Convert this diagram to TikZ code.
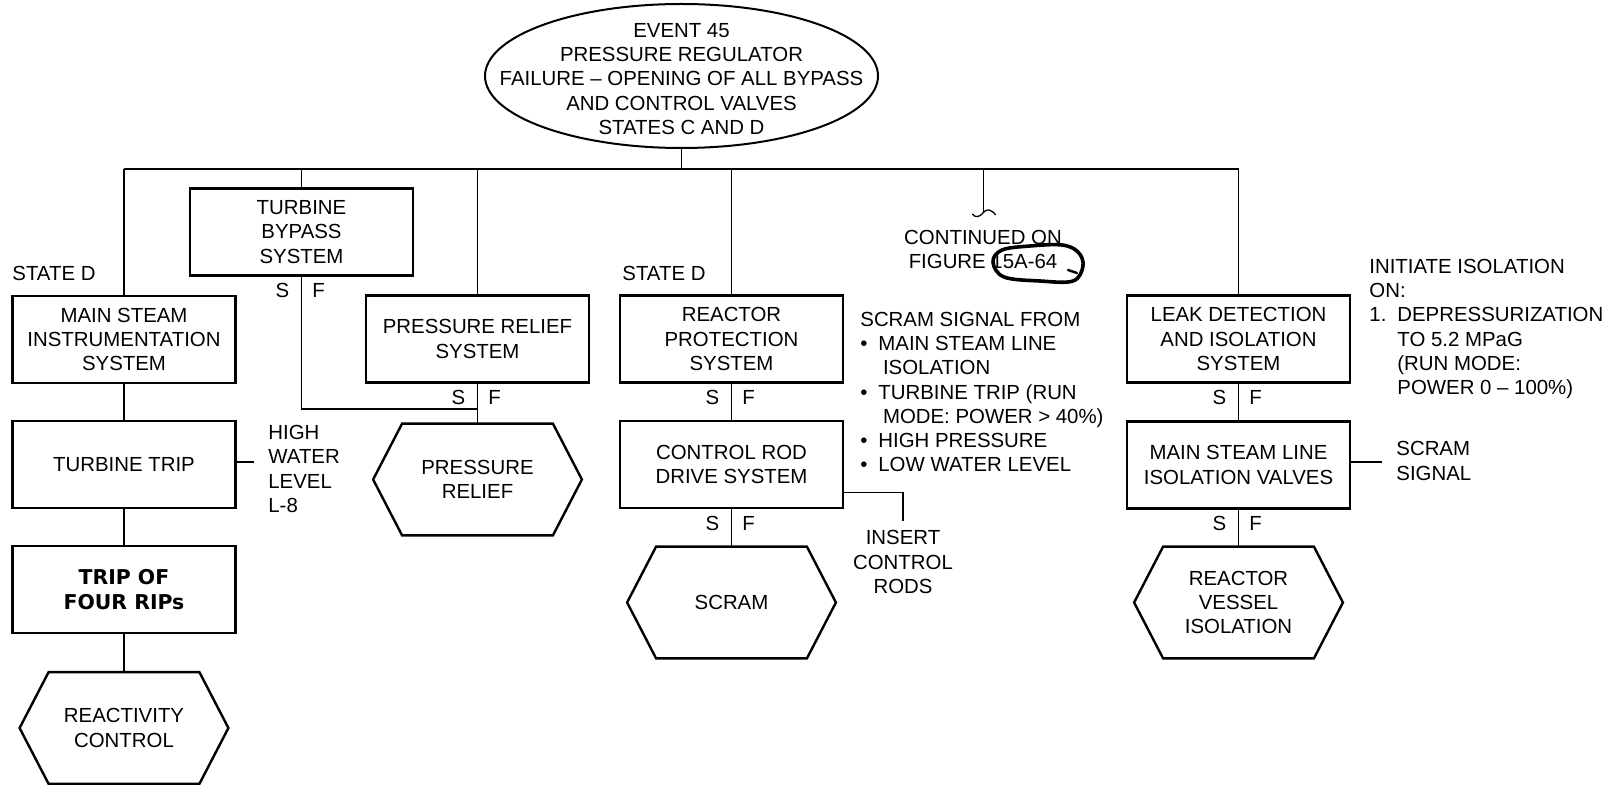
\documentclass[tikz,border=0pt]{standalone}
\usepackage{fontspec}
\setmainfont{Liberation Sans}
\newfontfamily\blackfont{DejaVu Sans}
\usetikzlibrary{shapes.geometric}
\newcommand\mainsz{\fontsize{10.2pt}{12.1pt}\selectfont}
\newcommand\hexdraw[1]{\draw[hexline] ([xshift=14.5pt]#1.north west) -- ([xshift=-14.5pt]#1.north east) -- (#1.east) -- ([xshift=-14.5pt]#1.south east) -- ([xshift=14.5pt]#1.south west) -- (#1.west) -- cycle;}
\newcommand\sfmarks[1]{\node[sflab] (#1S) at ([xshift=-9.5pt,yshift=-7pt]#1.south) {S};\node[sflab] (#1F) at ([xshift=8.5pt,yshift=-7pt]#1.south) {F};}
\newcommand\blt{\makebox[9pt][l]{\textbullet}}
\newcommand\indt{\hspace{11.3pt}}
\begin{document}
\begin{tikzpicture}[x=0.5pt,y=-0.5pt,
  conn/.style={line width=0.65pt},
  boxed/.style={draw, line width=1.2pt, minimum width=111.5pt, minimum height=43.5pt, inner sep=0pt, align=center, font=\mainsz},
  hexbox/.style={minimum width=104pt, minimum height=55.5pt, inner sep=0pt, align=center, font=\mainsz},
  hexline/.style={line width=1.2pt, line join=miter},
  txt/.style={inner sep=0pt, font=\mainsz},
  sflab/.style={inner sep=0pt, font=\mainsz}]
\useasboundingbox (0,0) rectangle (1616,785);

% top event
\node[ellipse, draw, line width=1pt, minimum width=196.5pt, minimum height=72pt, inner sep=0pt] (ev) at (681.5,76) {};
\node[txt, align=center] (evt) at (681.5,79) {EVENT 45\\PRESSURE REGULATOR\\FAILURE \textendash{} OPENING OF ALL BYPASS\\AND CONTROL VALVES\\STATES C AND D};

% boxes
\node[boxed] (tb) at (301.5,232) {TURBINE\\BYPASS\\SYSTEM};
\node[boxed] (msis) at (124,339.5) {MAIN STEAM\\INSTRUMENTATION\\SYSTEM};
\node[boxed] (tt) at (124,464.5) {TURBINE TRIP};
\node[boxed] (trip) at (124,589.5) {\blackfont\bfseries TRIP OF\\\blackfont\bfseries FOUR RIPs};
\node[boxed] (pr) at (477.5,339) {PRESSURE RELIEF\\SYSTEM};
\node[boxed] (rps) at (731.5,339) {REACTOR\\PROTECTION\\SYSTEM};
\node[boxed] (crd) at (731.5,464.5) {CONTROL ROD\\DRIVE SYSTEM};
\node[boxed] (ldis) at (1238.5,339) {LEAK DETECTION\\AND ISOLATION\\SYSTEM};
\node[boxed] (msliv) at (1238.5,465) {MAIN STEAM LINE\\ISOLATION VALVES};

% hexagons
\node[hexbox] (rc) at (124,728) {REACTIVITY\\CONTROL};
\hexdraw{rc}
\node[hexbox] (prh) at (477.5,479.5) {PRESSURE\\RELIEF};
\hexdraw{prh}
\node[hexbox] (scr) at (731.5,602.5) {SCRAM};
\hexdraw{scr}
\node[hexbox] (rvi) at (1238.5,602.5) {REACTOR\\VESSEL\\ISOLATION};
\hexdraw{rvi}

% S / F marks
\sfmarks{tb}
\sfmarks{pr}
\sfmarks{rps}
\sfmarks{crd}
\sfmarks{ldis}
\sfmarks{msliv}

% free texts
\node[txt, anchor=west] (sd1) at (12,273) {STATE D};
\node[txt, anchor=west] (sd2) at (622,273) {STATE D};
\node[txt, anchor=west, align=left] (hwl) at (268,469) {HIGH\\WATER\\LEVEL\\L-8};
\node[txt, align=center] (cont) at (983,249.5) {CONTINUED ON\\FIGURE 15A-64};
\node[txt, anchor=west, align=left] (scs) at (860,392) {SCRAM SIGNAL FROM\\\blt MAIN STEAM LINE\\\indt ISOLATION\\\blt TURBINE TRIP (RUN\\\indt MODE: POWER > 40\%)\\\blt HIGH PRESSURE\\\blt LOW WATER LEVEL};
\node[txt, align=center] (icr) at (903,562) {INSERT\\CONTROL\\RODS};
\node[txt, anchor=west, align=left] (iso) at (1369,329) {INITIATE ISOLATION\\ON:\\\makebox[14pt][l]{1.}DEPRESSURIZATION\\\hspace{14pt}TO 5.2 MPaG\\\hspace{14pt}(RUN MODE:\\\hspace{14pt}POWER 0 \textendash{} 100\%)};
\node[txt, anchor=west, align=left] (ssg) at (1396,461) {SCRAM\\SIGNAL};

% connectors
\coordinate (busL) at (124,169);
\coordinate (busR) at (1238.5,169);
\draw[conn] (busL) -- (busR);
\draw[conn] (ev.south) -- (ev.south |- busL);
\draw[conn] (busL) -- (msis.north);
\draw[conn] (tb.north |- busL) -- (tb.north);
\draw[conn] (pr.north |- busL) -- (pr.north);
\draw[conn] (rps.north |- busL) -- (rps.north);
\draw[conn] (busR) -- (ldis.north);
\coordinate (tilde) at (983.3,212.5);
\draw[conn] (tilde |- busL) -- (tilde);
\draw[conn] (972.3,214) .. controls (975,217.5) and (979,218) .. (tilde) .. controls (986.5,208.5) and (991,209) .. (995.7,215);

\coordinate (jy) at (0,409);
\draw[conn] (tb.south) -- (tb.south |- jy) -- (pr.south |- jy);
\draw[conn] (pr.south) -- (prh.north);

\draw[conn] (msis.south) -- (tt.north);
\draw[conn] (tt.south) -- (trip.north);
\draw[conn] (trip.south) -- (rc.north);
\coordinate (hwlend) at (254,462);
\draw[conn] (tt.east |- hwlend) -- (hwlend);

\draw[conn] (rps.south) -- (crd.north);
\draw[conn] (crd.south) -- (scr.north);
\coordinate (icrc) at (903,492.7);
\coordinate (icrend) at (903,521);
\draw[conn] (crd.east |- icrc) -- (icrc) -- (icrend);

\draw[conn] (ldis.south) -- (msliv.north);
\draw[conn] (msliv.south) -- (rvi.north);
\coordinate (ssgend) at (1382,462);
\draw[conn] (msliv.east |- ssgend) -- (ssgend);

% hand-drawn loop round the figure number
\draw[line width=1.8pt, line cap=round, line join=round] plot[smooth cycle, tension=0.6] coordinates {(993,262) (1002,250) (1030,246) (1062,245) (1078,252) (1083,266) (1073,281) (1040,281) (1004,277)};
\draw[line width=1.2pt, line cap=round] (1068,270) -- (1077,273);
\end{tikzpicture}
\end{document}
